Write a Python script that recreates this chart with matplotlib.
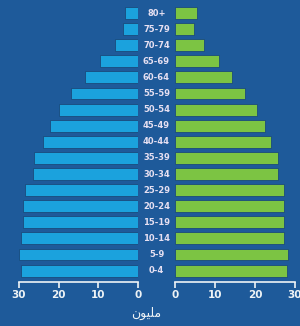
import numpy as np
import matplotlib.pyplot as plt
import matplotlib.transforms as mtransforms

# age groups, bottom to top
ages = ['0-4', '5-9', '10-14', '15-19', '20-24', '25-29', '30-34', '35-39',
        '40-44', '45-49', '50-54', '55-59', '60-64', '65-69', '70-74', '75-79', '80+']
# male (left) and female (right), millions
male = [29.5, 29.9, 29.5, 29.0, 28.9, 28.6, 26.5, 26.1,
        24.0, 22.3, 19.8, 16.9, 13.3, 9.7, 5.8, 3.9, 3.3]
female = [27.9, 28.3, 27.3, 27.3, 27.3, 27.3, 25.8, 25.8,
          23.9, 22.5, 20.4, 17.5, 14.3, 11.0, 7.3, 4.8, 5.4]
ticks = [0, 10, 20, 30]
unit_label = '\uFEE5\uFEEE\uFEF4\uFEE0\uFEE3'  # مليون (shaped, visual order)

bg = '#1e5a9a'
fg = '#eef3f6'
W, H = 300, 326

fig = plt.figure(figsize=[W/100, H/100], dpi=100, facecolor=bg)
y = np.arange(len(ages))
bot, top = 44/H, 277/H
axl = fig.add_axes([19/W, bot, 119/W, top])
axr = fig.add_axes([175/W, bot, 120/W, top])

axl.barh(y, male, height=0.74, color='#1ba2dd', edgecolor='#1a4a7c', linewidth=0.6)
axr.barh(y, female, height=0.74, color='#7cc443', edgecolor='#1a4a7c', linewidth=0.6)
axl.set_xlim(30, 0)
axr.set_xlim(0, 30)

for ax in (axl, axr):
    ax.set_facecolor('none')
    ax.set_ylim(-0.71, 16.5)
    ax.set_yticks([])
    ax.set_xticks(ticks)
    ax.set_xticklabels([str(t) for t in ticks], family=['Liberation Sans Narrow', 'DejaVu Sans'],
                       fontsize=7.5, fontweight='bold', color=fg)
    for s in ['top', 'left', 'right']:
        ax.spines[s].set_visible(False)
    ax.spines['bottom'].set_color(fg)
    ax.spines['bottom'].set_linewidth(1.2)
    ax.tick_params(axis='x', colors=fg, length=4, width=1.2, pad=2)

tr = mtransforms.blended_transform_factory(fig.transFigure, axr.transData)
for yi, a in zip(y, ages):
    fig.text(156.5/W, yi, a, transform=tr, ha='center', va='center',
             family=['Liberation Sans Narrow', 'DejaVu Sans'], fontsize=6,
             fontweight='bold', color='#e6e0f2')

fig.text(146/W, 1 - 313/H, unit_label, ha='center', va='center',
         family='DejaVu Sans', fontsize=9, color=fg)

plt.savefig('out.png', dpi=100, facecolor=bg)
plt.close()
